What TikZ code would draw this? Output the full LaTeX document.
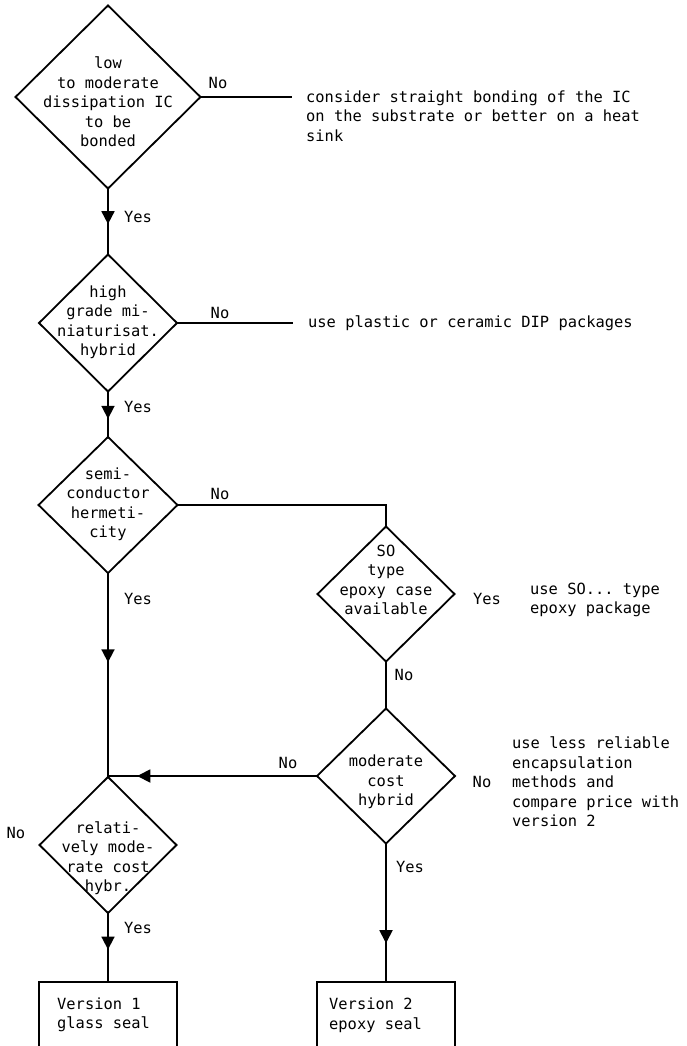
\documentclass[tikz,border=0pt]{standalone}
\usepackage{fontspec}
\setmonofont{DejaVu Sans Mono}
\usetikzlibrary{shapes.geometric,arrows.meta,decorations.markings}

\tikzset{
  txt/.style={font=\ttfamily\fontsize{15.4}{19.5}\selectfont, inner sep=0pt},
  dec/.style={draw, diamond, line width=1.8pt, inner sep=0pt, outer sep=0pt},
  endbox/.style={draw, rectangle, line width=1.8pt, minimum width=138pt, minimum height=66pt, inner sep=0pt, outer sep=0pt},
  flow/.style={line width=1.8pt},
  midarrow/.style={postaction={decorate}, decoration={markings,
      mark=at position #1 with {\arrow{Triangle[length=13pt,width=13pt]}}}}
}

\begin{document}
\begin{tikzpicture}[x=1pt,y=-1pt]

\useasboundingbox (0,0) rectangle (686,1046);

% decisions
\node [dec, minimum width=185pt, minimum height=183pt] (d1) at (108,97) {};
\node [dec, minimum width=138pt, minimum height=137pt] (d2) at (108,323) {};
\node [dec, minimum width=139pt, minimum height=136pt] (d3) at (108,505) {};
\node [dec, minimum width=137pt, minimum height=135pt] (so) at (386,594) {};
\node [dec, minimum width=138pt, minimum height=135pt] (mc) at (386,776) {};
\node [dec, minimum width=137pt, minimum height=136pt] (rc) at (108,845) {};

\node [txt, align=center] (d1t) at (108,102) {low\\to moderate\\dissipation IC\\to be\\bonded};
\node [txt, align=center] (d2t) at (108,322) {high\\grade mi-\\niaturisat.\\hybrid};
\node [txt, align=center] (d3t) at (108,504) {semi-\\conductor\\hermeti-\\city};
\node [txt, align=center] (sot) at (386,580) {SO\\type\\epoxy case\\available};
\node [txt, align=center] (mct) at (386,782) {moderate\\cost\\hybrid};
\node [txt, align=center] (rct) at (108,858) {relati-\\vely mode-\\rate cost\\hybr.};

% results
\node [endbox] (v1) at (108,1015) {};
\node [endbox] (v2) at (386,1015) {};
\node [txt, align=left, anchor=west] (v1t) at (57,1015) {Version 1\\glass seal};
\node [txt, align=left, anchor=west] (v2t) at (329,1015) {Version 2\\epoxy seal};

\node [txt, align=left, anchor=west] (s1) at (306,116)
  {consider straight bonding of the IC\\on the substrate or better on a heat\\sink};
\node [txt, anchor=west] (s2) at (308,323) {use plastic or ceramic DIP packages};
\node [txt, align=left, anchor=west] (s3) at (530,600) {use SO... type\\epoxy package};
\node [txt, align=left, anchor=west] (s4) at (512,782)
  {use less reliable\\encapsulation\\methods and\\compare price with\\version 2};

% yes / no
\foreach \n/\x/\y/\t in {no1/218/83/No, yes1/138/217/Yes, no2/220/313/No,
    yes2/138/407/Yes, no3/220/494/No, yes3/138/599/Yes, yes4/487/599/Yes,
    no4/404/675/No, no5/288/763/No, no6/482/782/No, yes5/410/867/Yes,
    no7/16/833/No, yes6/138/928/Yes}
  \node [txt] (\n) at (\x,\y) {\t};

% connectors
\coordinate (e1) at (292,97);
\coordinate (e2) at (293,323);
\coordinate (join) at (rc.north |- mc.west);

\draw [flow] (d1.east) -- (e1);
\draw [flow] (d2.east) -- (e2);
\draw [flow, midarrow=0.54] (d1.south) -- (d2.north);
\draw [flow, midarrow=0.6] (d2.south) -- (d3.north);
\draw [flow, midarrow=0.44] (d3.south) -- (join);
\draw [flow] (join) -- (rc.north);
\draw [flow, midarrow=0.86] (mc.west) -- (join);
\draw [flow] (d3.east) -| (so.north);
\draw [flow] (so.south) -- (mc.north);
\draw [flow, midarrow=0.72] (mc.south) -- (v2.north);
\draw [flow, midarrow=0.53] (rc.south) -- (v1.north);

\end{tikzpicture}
\end{document}
